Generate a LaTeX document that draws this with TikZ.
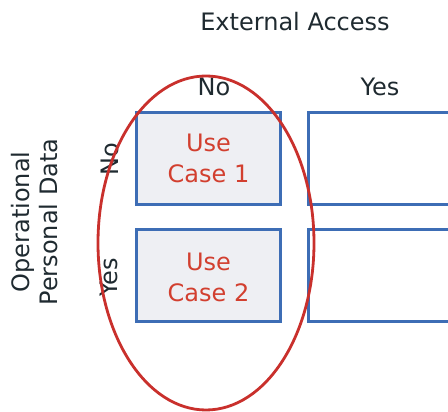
\documentclass[tikz,border=0pt]{standalone}
\usepackage{fontspec}
\setmainfont{DejaVu Sans}
\definecolor{boxblue}{HTML}{3D6DB5}
\definecolor{boxfill}{HTML}{EEEFF3}
\definecolor{ringred}{HTML}{C9302C}
\definecolor{casered}{HTML}{D23F2F}
\definecolor{labeltext}{HTML}{1F2A30}
\begin{document}
\begin{tikzpicture}[x=1pt,y=1pt,
  cell/.style={draw=boxblue, line width=2.6pt},
  usecell/.style={cell, fill=boxfill},
  lbl/.style={text=labeltext, font=\fontsize{24}{28}\selectfont, inner sep=0pt},
  casetext/.style={text=casered, font=\fontsize{24}{31}\selectfont, align=center, inner sep=0pt}]
\useasboundingbox (0,0) rectangle (448,412);
\clip (0,0) rectangle (448,412);
% cells
\draw[usecell] (136.5,207.5) rectangle (280.5,299.5);
\draw[usecell] (136.5,90.5) rectangle (280.5,182.5);
\draw[cell] (308.5,207.5) rectangle (470,299.5);
\draw[cell] (308.5,90.5) rectangle (470,182.5);
\coordinate (c1) at (208.5,253.5);
\coordinate (c2) at (208.5,136.5);
\node[casetext] (uc1) at (c1) {Use\\Case 1};
\node[casetext] (uc2) at (208.5,135) {Use\\Case 2};
% headings
\node[lbl] (title) at (295,390) {External Access};
\node[lbl] (colno) at (214,325) {No};
\node[lbl] (colyes) at (380,325) {Yes};
\node[lbl, rotate=90] (rowno) at (110,253) {No};
\node[lbl, rotate=90] (rowyes) at (109,134.5) {Yes};
\node[lbl, rotate=90, align=center, font=\fontsize{24}{28}\selectfont] (rowtitle) at (35,190) {Operational\\Personal Data};
% highlight ring
\draw[ringred, line width=2.8pt] (206,169) ellipse [x radius=108, y radius=167];
\end{tikzpicture}
\end{document}
